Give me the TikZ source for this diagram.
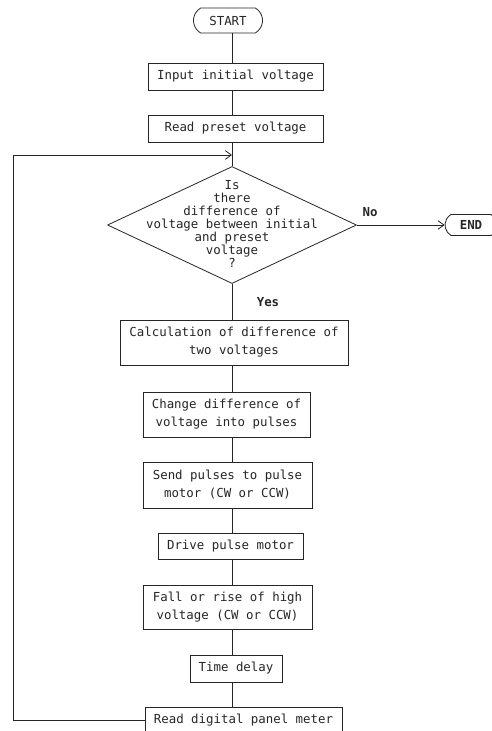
\documentclass[tikz,border=0pt]{standalone}
\usepackage{fontspec}
\setmonofont{DejaVu Sans Mono}
\usetikzlibrary{arrows.meta,shapes.geometric,shapes.misc}
\begin{document}
\begin{tikzpicture}[x=0.75pt,y=-0.75pt,
  ink/.style={black!85},
  every node/.style={font=\ttfamily\fontsize{9.3}{13.5}\selectfont, text=black!85},
  sz/.style 2 args={minimum width=#1*0.75pt, minimum height=#2*0.75pt},
  box/.style={draw=black!85, line width=0.6pt, inner sep=0pt, align=center},
  term/.style={draw=black!85, line width=0.6pt, rounded rectangle, rounded rectangle arc length=120, inner sep=0pt},
  decision/.style={draw=black!85, line width=0.6pt, diamond, inner sep=0pt},
  dectext/.style={align=center, inner sep=0pt, font=\ttfamily\fontsize{9.3}{9.8}\selectfont},
  conn/.style={draw=black!85, line width=0.6pt},
  tip/.style={-{Straight Barb[length=4.5pt,width=6.5pt]}},
  lbl/.style={font=\ttfamily\bfseries\fontsize{9.3}{10}\selectfont}
]
\clip (0,0) rectangle (492,731);
\fill[white] (0,0) rectangle (492,731);

\node[term, sz={69}{25}] (start) at (228,20.5) {START};
\node[box, sz={175}{27}] (input) at (235.5,76.5) {Input initial voltage};
\node[box, sz={175}{27}] (preset) at (235.5,128.5) {Read preset voltage};
\node[decision, sz={249}{117}] (dec) at (232,225) {};
\node[dectext] (dectxt) at (232,224) {Is\\there\\difference of\\voltage between initial\\and preset\\voltage\\?};
\node[term, sz={52}{21}, font=\ttfamily\bfseries\fontsize{9.3}{10}\selectfont] (end) at (471,225) {END};
\node[box, sz={228}{45}] (calc) at (234,342.5) {Calculation of difference of\\two voltages};
\node[box, sz={167}{45}] (change) at (226.5,414.5) {Change difference of\\voltage into pulses};
\node[box, sz={169}{46}] (send) at (227.5,485) {Send pulses to pulse\\motor (CW or CCW)};
\node[box, sz={145}{26}] (drive) at (230.5,546) {Drive pulse motor};
\node[box, sz={169}{44}] (fall) at (227.5,607) {Fall or rise of high\\voltage (CW or CCW)};
\node[box, sz={92}{27}] (delay) at (236,668.5) {Time delay};
\node[box, sz={197}{26}] (read) at (243.5,720) {Read digital panel meter};

\node[lbl] (yes) at (268,302) {Yes};
\node[lbl] (no) at (370,212) {No};

\coordinate (spine) at (232,0);
\coordinate (merge) at (232,155);
\coordinate (loopx) at (13,0);

\draw[conn] (start.south -| spine) -- (input.north -| spine);
\draw[conn] (input.south -| spine) -- (preset.north -| spine);
\draw[conn] (preset.south -| spine) -- (dec.north);
\draw[conn] (dec.south) -- (calc.north -| dec.south);
\draw[conn] (calc.south -| spine) -- (change.north -| spine);
\draw[conn] (change.south -| spine) -- (send.north -| spine);
\draw[conn] (send.south -| spine) -- (drive.north -| spine);
\draw[conn] (drive.south -| spine) -- (fall.north -| spine);
\draw[conn] (fall.south -| spine) -- (delay.north -| spine);
\draw[conn] (delay.south -| spine) -- (read.north -| spine);
\draw[conn, tip] (read.west) -- (read.west -| loopx) |- (merge);
\draw[conn, tip] (dec.east) -- (end.west);
\end{tikzpicture}
\end{document}
